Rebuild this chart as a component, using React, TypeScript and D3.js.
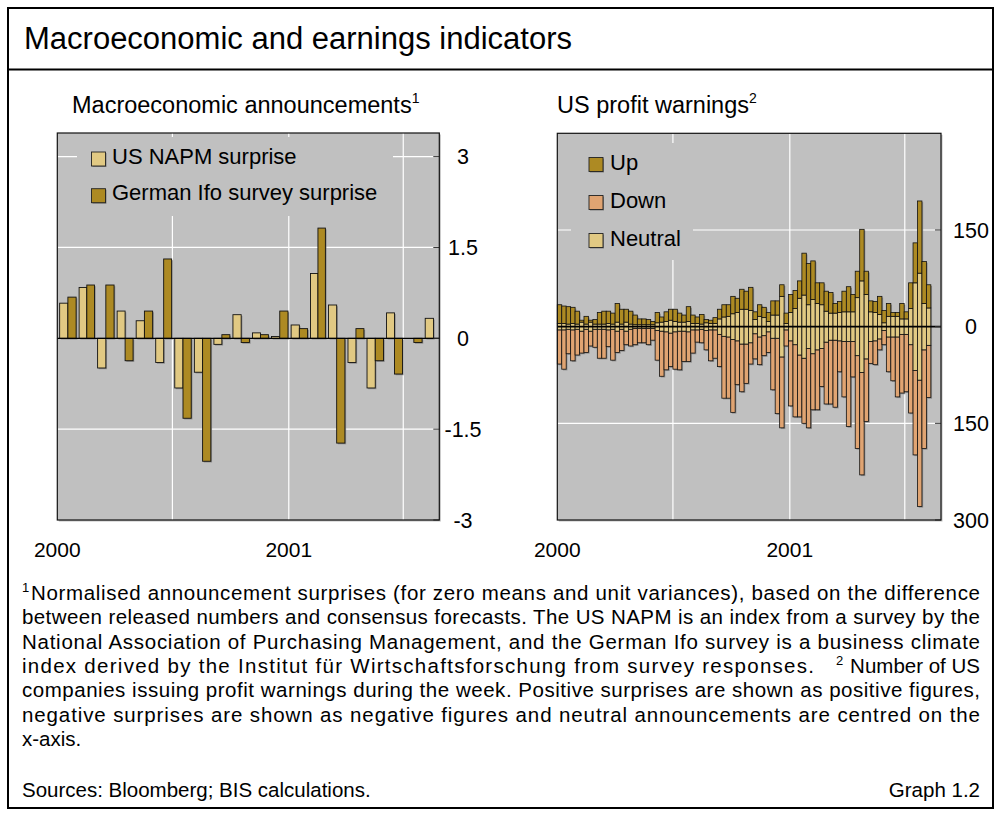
import React from "react";
import * as d3 from "d3";

// ---------- data ----------
const monthStarts = [
  "2000-01", "2000-02", "2000-03", "2000-04", "2000-05", "2000-06", "2000-07", "2000-08", "2000-09", "2000-10",
  "2000-11", "2000-12", "2001-01", "2001-02", "2001-03", "2001-04", "2001-05", "2001-06", "2001-07", "2001-08",
];
const napmSurprise = [0.58, 0.84, -0.49, 0.45, 0.29, -0.4, -0.82, -0.56, -0.1, 0.39, 0.09, 0.03, 0.22, 1.07, 0.55, -0.4, -0.82, 0.42, 0.0, 0.33];
const ifoSurprise: (number | null)[] = [0.68, 0.88, 0.88, -0.37, 0.45, 1.31, -1.32, -2.03, 0.06, -0.07, 0.06, 0.45, 0.16, 1.82, -1.73, 0.16, -0.37, -0.59, -0.07, null];

const firstWeek = "2000-01-01";
const warningsUp = [
  29, 27, 27, 25, 20, 3, 12, 3, 7, 18,
  20, 19, 17, 29, 23, 20, 20, 15, 9, 9,
  8, 5, 16, 8, 15, 17, 19, 14, 11, 23,
  13, 10, 15, 5, 5, 9, 15, 19, 18, 27,
  22, 31, 28, 36, 12, 18, 16, 14, 22, 22,
  18, 16, 28, 28, 27, 65, 64, 60, 32, 34,
  31, 32, 15, 17, 32, 39, 27, 41, 80, 36,
  17, 17, 28, 19, 20, 6, 6, 24, 11, 40,
  62, 112, 65, 36,
];
const warningsDown = [
  53, 61, 38, 48, 40, 34, 36, 23, 28, 45,
  45, 26, 48, 33, 33, 21, 26, 25, 22, 22,
  25, 18, 46, 70, 59, 52, 58, 60, 47, 46,
  36, 19, 21, 30, 48, 44, 50, 96, 95, 113,
  68, 74, 61, 33, 39, 43, 31, 32, 80, 117,
  110, 25, 101, 112, 96, 101, 123, 87, 93, 59,
  96, 99, 104, 48, 86, 132, 55, 144, 159, 97,
  34, 37, 17, 22, 54, 68, 93, 91, 89, 106,
  131, 196, 153, 81,
];
const warningsNeutral = [
  10, 10, 8, 10, 8, 14, 8, 14, 8, 8,
  8, 10, 8, 14, 8, 14, 8, 6, 6, 6,
  6, 6, 12, 14, 16, 20, 16, 14, 14, 16,
  10, 10, 8, 12, 10, 10, 24, 30, 32, 40,
  44, 54, 54, 50, 22, 32, 28, 16, 36, 36,
  94, 10, 44, 56, 88, 98, 68, 84, 72, 68,
  48, 42, 42, 44, 46, 46, 46, 90, 142, 100,
  46, 44, 38, 12, 32, 32, 32, 24, 24, 56,
  136, 166, 72, 58,
];

const leftTicks = [3, 1.5, 0, -1.5, -3];
const leftTickLabels = ["3", "1.5", "0", "-1.5", "-3"];
const rightTicks = [150, 0, -150, -300];
const rightTickLabels = ["150", "0", "150", "300"];
const yearTicks = ["2000-01-01", "2001-01-01"];
const yearLabels = ["2000", "2001"];
const gridDates = ["2000-07-01", "2001-01-01", "2001-07-01"];
const leftLegend = ["US NAPM surprise", "German Ifo survey surprise"];
const rightLegend = ["Up", "Down", "Neutral"];

// ---------- style ----------
const FONT = "'Liberation Sans', Arial, Helvetica, sans-serif";
const BG = "#c0c0c0";
const LIGHT = "#e1c983";
const DARK = "#ad8a23";
const DOWN = "#e0a472";
const SHADOW = "#808080";

const parse = d3.timeParse("%Y-%m-%d");
const parseM = d3.timeParse("%Y-%m");
const domainStart = parse("2000-01-01")!;
const domainEnd = parse("2001-08-27")!;

const L = { x0: 57.3, x1: 439.3, y0: 133, y1: 520 };
const R = { x0: 557.3, x1: 941, y0: 133.3, y1: 520 };

export default function App() {
  const xL = d3.scaleTime().domain([domainStart, domainEnd]).range([L.x0, L.x1]);
  const xR = d3.scaleTime().domain([domainStart, domainEnd]).range([R.x0, R.x1]);
  const yL = d3.scaleLinear().domain([-3, 3.39]).range([L.y1, L.y0]);
  const yR = d3.scaleLinear().domain([-300, 300]).range([R.y1, R.y0]);

  const months = monthStarts.map((m) => parseM(m)!);
  const weeks = warningsUp.map((_, i) => d3.timeDay.offset(parse(firstWeek)!, 7 * i));

  // left bars
  const leftBars: { x: number; w: number; v: number; fill: string }[] = [];
  months.forEach((m, i) => {
    const a = xL(m);
    const b = xL(d3.timeMonth.offset(m, 1));
    const w = b - a;
    const bw = w * 0.42;
    if (napmSurprise[i] !== null) leftBars.push({ x: a + w * 0.12, w: bw, v: napmSurprise[i] as number, fill: LIGHT });
    if (ifoSurprise[i] !== null) leftBars.push({ x: a + w * 0.54, w: bw, v: ifoSurprise[i] as number, fill: DARK });
  });

  // right stacked bars
  const rightBars = weeks.map((d, i) => {
    const a = xR(d);
    const b = xR(d3.timeDay.offset(d, 7));
    const n2 = warningsNeutral[i] / 2;
    return {
      x: a,
      w: b - a,
      upTop: yR(n2 + warningsUp[i]),
      nTop: yR(n2),
      nBot: yR(-n2),
      downBot: yR(-n2 - warningsDown[i]),
    };
  });

  const tickMark = (x1: number, y: number, k: string) => (
    <line key={k} x1={x1 - 6} x2={x1} y1={y} y2={y} stroke="#333" strokeWidth={1} />
  );

  return (
    <svg width={1002} height={816} style={{ position: "absolute", left: 0, top: 0 }} fontFamily={FONT}>
      <rect x={0} y={0} width={1002} height={816} fill="#fff" />
      {/* frame */}
      <rect x={8} y={8} width={985} height={800} fill="none" stroke="#000" strokeWidth={2} />
      <line x1={8} x2={993} y1={69.5} y2={69.5} stroke="#000" strokeWidth={2} />
      <text x={24} y={48.5} fontSize={31} fill="#000">Macroeconomic and earnings indicators</text>

      {/* subtitles */}
      <text x={72} y={113} fontSize={23.5} fill="#000">
        Macroeconomic announcements<tspan fontSize={14} dy={-10}>1</tspan>
      </text>
      <text x={557} y={113} fontSize={23.5} fill="#000">
        US profit warnings<tspan fontSize={14} dy={-10}>2</tspan>
      </text>

      {/* ---------- LEFT PANEL ---------- */}
      <rect x={L.x0 + 1.5} y={L.y0 + 1.5} width={L.x1 - L.x0} height={L.y1 - L.y0} fill={SHADOW} opacity={0.5} />
      <rect x={L.x0} y={L.y0} width={L.x1 - L.x0} height={L.y1 - L.y0} fill={BG} />
      {gridDates.map((g) => (
        <line key={g} x1={xL(parse(g)!)} x2={xL(parse(g)!)} y1={L.y0} y2={L.y1} stroke="#fff" strokeWidth={1.2} />
      ))}
      {leftTicks.filter((t) => t !== 0 && t !== -3).map((t) => (
        <line key={t} x1={L.x0} x2={L.x1} y1={yL(t)} y2={yL(t)} stroke="#fff" strokeWidth={1.2} />
      ))}
      {/* legend */}
      <rect x={77} y={137} width={316} height={79} fill={BG} />
      {leftLegend.map((s, i) => (
        <g key={s}>
          <rect x={91.5} y={152 + i * 36.7} width={14} height={14} fill={SHADOW} transform="translate(1,1)" />
          <rect x={91.5} y={152 + i * 36.7} width={14} height={14} fill={i === 0 ? LIGHT : DARK} stroke="#222" strokeWidth={0.9} />
          <text x={112} y={163.5 + i * 36.7} fontSize={22} fill="#000">{s}</text>
        </g>
      ))}
      {/* bars */}
      {leftBars.map((b, i) => {
        const y = Math.min(yL(b.v), yL(0));
        const h = Math.abs(yL(b.v) - yL(0));
        return <rect key={"s" + i} x={b.x + 1.2} y={y + 1.2} width={b.w} height={h} fill={SHADOW} opacity={0.8} />;
      })}
      {leftBars.map((b, i) => {
        const y = Math.min(yL(b.v), yL(0));
        const h = Math.abs(yL(b.v) - yL(0));
        return <rect key={"b" + i} x={b.x} y={y} width={b.w} height={h} fill={b.fill} stroke="#111" strokeWidth={0.9} />;
      })}
      <line x1={L.x0} x2={L.x1} y1={yL(0)} y2={yL(0)} stroke="#000" strokeWidth={1.2} />
      {leftTicks.map((t) => tickMark(L.x1, yL(t), "lt" + t))}
      <rect x={L.x0} y={L.y0} width={L.x1 - L.x0} height={L.y1 - L.y0} fill="none" stroke="#111" strokeWidth={1.2} />
      {leftTicks.map((t, i) => (
        <text key={"ll" + t} x={463} y={yL(t)} dy="0.35em" fontSize={21.5} textAnchor="middle" fill="#000">{leftTickLabels[i]}</text>
      ))}
      {yearTicks.map((d, i) => (
        <text key={"lx" + d} x={xL(parse(d)!)} y={557} fontSize={21} textAnchor="middle" fill="#000">{yearLabels[i]}</text>
      ))}

      {/* ---------- RIGHT PANEL ---------- */}
      <rect x={R.x0 + 1.5} y={R.y0 + 1.5} width={R.x1 - R.x0} height={R.y1 - R.y0} fill={SHADOW} opacity={0.5} />
      <rect x={R.x0} y={R.y0} width={R.x1 - R.x0} height={R.y1 - R.y0} fill={BG} />
      {gridDates.map((g) => (
        <line key={g} x1={xR(parse(g)!)} x2={xR(parse(g)!)} y1={R.y0} y2={R.y1} stroke="#fff" strokeWidth={1.2} />
      ))}
      {rightTicks.filter((t) => t !== 0 && t !== -300).map((t) => (
        <line key={t} x1={R.x0} x2={R.x1} y1={yR(t)} y2={yR(t)} stroke="#fff" strokeWidth={1.2} />
      ))}
      <rect x={571} y={143} width={122} height={117} fill={BG} />
      {rightLegend.map((s, i) => (
        <g key={s}>
          <rect x={589} y={157.5 + i * 38} width={14} height={14} fill={SHADOW} transform="translate(1,1)" />
          <rect x={589} y={157.5 + i * 38} width={14} height={14} fill={[DARK, DOWN, LIGHT][i]} stroke="#222" strokeWidth={0.9} />
          <text x={610} y={169.5 + i * 38} fontSize={22} fill="#000">{s}</text>
        </g>
      ))}
      {rightBars.map((b, i) => (
        <rect key={"rs" + i} x={b.x + 1.2} y={b.upTop + 1.2} width={b.w} height={b.downBot - b.upTop} fill={SHADOW} opacity={0.8} />
      ))}
      {rightBars.map((b, i) => (
        <g key={"rb" + i} stroke="#111" strokeWidth={0.8}>
          <rect x={b.x} y={b.nBot} width={b.w} height={b.downBot - b.nBot} fill={DOWN} />
          <rect x={b.x} y={b.nTop} width={b.w} height={b.nBot - b.nTop} fill={LIGHT} />
          <rect x={b.x} y={b.upTop} width={b.w} height={b.nTop - b.upTop} fill={DARK} />
        </g>
      ))}
      <line x1={R.x0} x2={R.x1} y1={yR(0)} y2={yR(0)} stroke="#000" strokeWidth={1.6} />
      {rightTicks.map((t) => tickMark(R.x1, yR(t), "rt" + t))}
      <rect x={R.x0} y={R.y0} width={R.x1 - R.x0} height={R.y1 - R.y0} fill="none" stroke="#111" strokeWidth={1.2} />
      {rightTicks.map((t, i) => (
        <text key={"rl" + t} x={971} y={yR(t)} dy="0.35em" fontSize={21.5} textAnchor="middle" fill="#000">{rightTickLabels[i]}</text>
      ))}
      {yearTicks.map((d, i) => (
        <text key={"rx" + d} x={xR(parse(d)!)} y={557} fontSize={21} textAnchor="middle" fill="#000">{yearLabels[i]}</text>
      ))}

      {/* ---------- FOOTNOTES ---------- */}
      <g fontSize={20.5} fill="#000">
        <text x={22} y={592} fontSize={13}>1</text>
        <text x={31} y={600} textLength={949} lengthAdjust="spacing">Normalised announcement surprises (for zero means and unit variances), based on the difference</text>
        <text x={22} y={624.3} textLength={958} lengthAdjust="spacing">between released numbers and consensus forecasts. The US NAPM is an index from a survey by the</text>
        <text x={22} y={648.6} textLength={958} lengthAdjust="spacing">National Association of Purchasing Management, and the German Ifo survey is a business climate</text>
        <text x={22} y={672.9} textLength={792} lengthAdjust="spacing">index derived by the Institut für Wirtschaftsforschung from survey responses.</text>
        <text x={836} y={665} fontSize={13}>2</text>
        <text x={980} y={672.9} textAnchor="end">Number of US</text>
        <text x={22} y={697.2} textLength={958} lengthAdjust="spacing">companies issuing profit warnings during the week. Positive surprises are shown as positive figures,</text>
        <text x={22} y={721.5} textLength={958} lengthAdjust="spacing">negative surprises are shown as negative figures and neutral announcements are centred on the</text>
        <text x={22} y={745.8}>x-axis.</text>
        <text x={22} y={797}>Sources: Bloomberg; BIS calculations.</text>
        <text x={980} y={797} textAnchor="end">Graph 1.2</text>
      </g>
    </svg>
  );
}
